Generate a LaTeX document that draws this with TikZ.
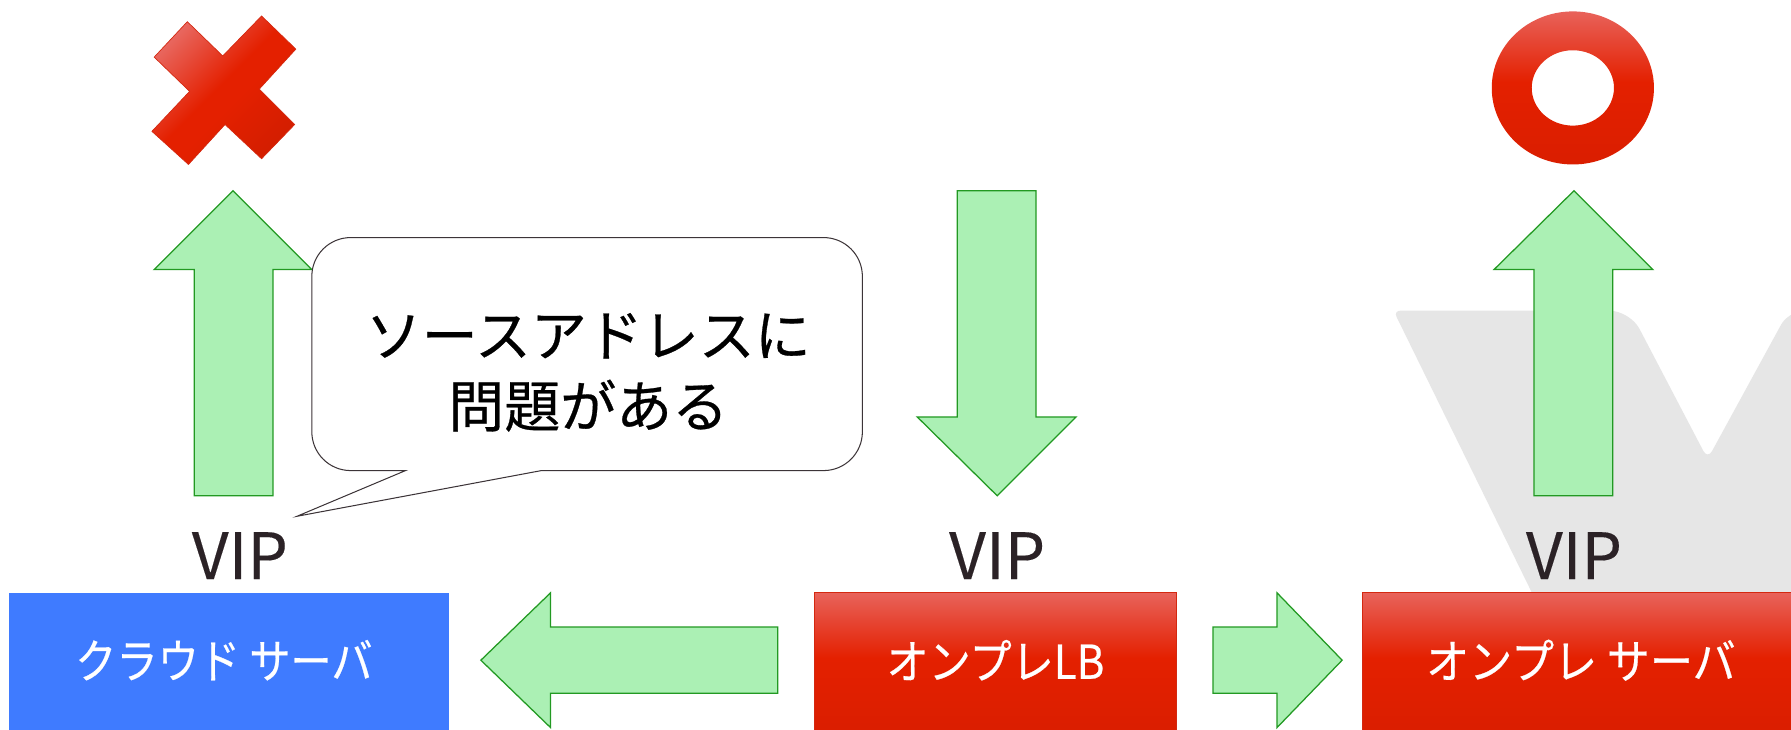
\documentclass[tikz,border=0pt]{standalone}
\usepackage{fontspec}
\setmainfont{Noto Sans CJK JP}
\newfontfamily\heavyjp[FakeBold=0.5]{Noto Sans CJK JP}
\newfontfamily\midjp[FakeBold=0.2]{Noto Sans CJK JP}
\definecolor{garfill}{HTML}{ABF0B4}
\definecolor{garline}{HTML}{229922}
\definecolor{vipcol}{HTML}{2B2226}
\definecolor{bluebox}{HTML}{3F7BFF}
\definecolor{redtop}{HTML}{E8625A}
\definecolor{redmid}{HTML}{E42000}
\definecolor{redbot}{HTML}{DA1E00}
\definecolor{xlight}{HTML}{E8665E}
\definecolor{xdark}{HTML}{D41E00}
\definecolor{redline}{HTML}{D42810}
\definecolor{wmgray}{HTML}{E6E6E6}
\definecolor{bubline}{HTML}{3C3438}
\pgfdeclareverticalshading{redgrad}{100bp}{color(0bp)=(redbot); color(25bp)=(redbot); color(52bp)=(redmid); color(75bp)=(redtop); color(100bp)=(redtop)}
\pgfdeclareverticalshading{xgrad}{100bp}{color(0bp)=(xdark); color(25bp)=(xdark); color(45bp)=(redmid); color(52bp)=(redmid); color(75bp)=(xlight); color(100bp)=(xlight)}
\tikzset{
  garrow/.style={fill=garfill, draw=garline, line width=1.1pt, line join=miter},
  vip/.style={font=\midjp\fontsize{56}{60}\selectfont, text=vipcol, anchor=base, inner sep=0pt},
  boxtext/.style={text=white, font=\heavyjp\fontsize{41}{44}\selectfont, inner sep=0pt},
  redboxstyle/.style={shade, shading=redgrad, draw=redline, line width=0.8pt},
  bubtext/.style={font=\heavyjp\fontsize{49}{62}\selectfont, text=black, align=center, inner sep=0pt}
}
\begin{document}
\begin{tikzpicture}[x=1pt,y=1pt]
\useasboundingbox (0,0) rectangle (1568,639);
\fill[white] (0,0) rectangle (1568,639);
% watermark shape
\begin{scope}
\clip (0,0) rectangle (1568,639);
\fill[wmgray] (1405,-10) [rounded corners=6pt]-- (1220,367) [rounded corners=18pt]-- (1427,367) [rounded corners=8pt]-- (1495,237) [rounded corners=14pt]-- (1566,367) [sharp corners]-- (1620,367) -- (1620,-10) -- cycle;
\end{scope}
% X mark
\shade[shading=xgrad, shading angle=45, draw=redline, line width=0.6pt]
 (135,589) -- (164,620) -- (195,590) -- (229,625) -- (259,596) -- (227,561) -- (258,530) -- (229,500) -- (197,530) -- (165,495) -- (133,524) -- (166,559) -- cycle;
% O mark
\shade[shading=redgrad, even odd rule] (1377,562) ellipse[x radius=71pt, y radius=67pt] (1377,562) ellipse[x radius=36pt, y radius=33pt];
% vertical arrows
\draw[garrow] (204,472) -- (273,403) -- (239,403) -- (239,205) -- (170,205) -- (170,403) -- (135,403) -- cycle;
\draw[garrow] (873,205) -- (942,274) -- (907,274) -- (907,472) -- (838,472) -- (838,274) -- (803,274) -- cycle;
\draw[garrow] (1378,472) -- (1447,403) -- (1412,403) -- (1412,205) -- (1343,205) -- (1343,403) -- (1308,403) -- cycle;
% horizontal arrows
\draw[garrow] (421,61) -- (482,120) -- (482,90) -- (681,90) -- (681,32) -- (482,32) -- (482,2) -- cycle;
\draw[garrow] (1175,61) -- (1118,120) -- (1118,90) -- (1062,90) -- (1062,32) -- (1118,32) -- (1118,2) -- cycle;
% speech bubble
\draw[fill=white, draw=bubline, line width=0.9pt]
 (355,227) -- (307,227) arc[start angle=270, end angle=180, radius=34pt]
 -- (273,397) arc[start angle=180, end angle=90, radius=34pt]
 -- (721,431) arc[start angle=90, end angle=0, radius=34pt]
 -- (755,261) arc[start angle=0, end angle=-90, radius=34pt]
 -- (474,227) -- (260,187) -- cycle;
\node[bubtext] (msg) at (515,313) {ソースアドレスに\\問題がある};
% VIP labels
\node[vip] (vip1) at (210,132) {VIP};
\node[vip] (vip2) at (873,132) {VIP};
\node[vip] (vip3) at (1378,132) {VIP};
% boxes
\fill[bluebox] (8,-2) rectangle (393,120);
\node[boxtext] (cloud) at (196,61) {\scalebox{0.88}[1]{クラウド サーバ}};
\node[redboxstyle, minimum width=317pt, minimum height=124pt, inner sep=0pt] (lbbox) at (871.5,58) {};
\node[boxtext] (lb) at (871.5,61) {\scalebox{0.9}[1]{オンプレLB}};
\node[redboxstyle, minimum width=384pt, minimum height=124pt, inner sep=0pt] (srvbox) at (1385,58) {};
\node[boxtext] (srv) at (1384,61) {\scalebox{0.92}[1]{オンプレ サーバ}};
\end{tikzpicture}
\end{document}
